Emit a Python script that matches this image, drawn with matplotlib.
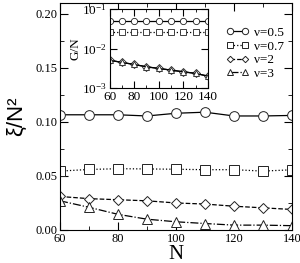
import numpy as np
import matplotlib.pyplot as plt
from matplotlib.ticker import MultipleLocator, LogLocator, NullFormatter

plt.rcParams['font.family'] = ['Liberation Serif', 'DejaVu Serif']
plt.rcParams['mathtext.fontset'] = 'custom'
plt.rcParams['mathtext.rm'] = 'Liberation Serif'

# data
N = [60, 70, 80, 90, 100, 110, 120, 130, 140]
xi_05 = [0.1066, 0.1066, 0.1066, 0.1055, 0.108, 0.109, 0.1055, 0.1055, 0.106]
xi_07 = [0.0545, 0.056, 0.0567, 0.0565, 0.0562, 0.0558, 0.0558, 0.0545, 0.0557]
xi_2 = [0.031, 0.029, 0.028, 0.027, 0.025, 0.024, 0.022, 0.0205, 0.019]
xi_3 = [0.027, 0.021, 0.0145, 0.010, 0.0076, 0.006, 0.0045, 0.0045, 0.004]

g_05 = [0.051] * 9
g_07 = [0.0257] * 9
g_2 = [0.0051, 0.00448, 0.00398, 0.00347, 0.00315, 0.00286, 0.00259, 0.00236, 0.00201]
g_3 = [0.0051, 0.00448, 0.00398, 0.00347, 0.00315, 0.00286, 0.00259, 0.00236, 0.00201]

labels = ['ν=0.5', 'ν=0.7', 'ν=2', 'ν=3']
markers = ['o', 's', 'D', '^']
msizes = [7, 6.5, 5, 6.5]
styles = ['-', ':', '--', '-.']

fig = plt.figure(figsize=(3.0, 2.63), dpi=100)
ax = fig.add_axes([0.2, 0.1255, 0.773, 0.863])

for y, lab, m, ms, ls in zip([xi_05, xi_07, xi_2, xi_3], labels, markers, msizes, styles):
    ax.plot(N, y, linestyle=ls, color='black', lw=0.9, marker=m, ms=ms,
            mfc='white', mec='#222222', mew=0.7, label=lab)

ax.set_xlim(60, 140)
ax.set_ylim(0, 0.21)
ax.xaxis.set_major_locator(MultipleLocator(20))
ax.xaxis.set_minor_locator(MultipleLocator(10))
ax.yaxis.set_major_locator(MultipleLocator(0.05))
ax.yaxis.set_minor_locator(MultipleLocator(0.025))
ax.yaxis.set_major_formatter(plt.FormatStrFormatter('%.2f'))
ax.tick_params(which='both', direction='in', top=True, right=True, labelsize=9, pad=2)
ax.tick_params(which='major', length=6)
ax.tick_params(which='minor', length=3)
ax.set_xlabel('N', fontsize=15, labelpad=0)
ax.set_ylabel('ξ/N²', fontsize=16, family=['Liberation Sans', 'DejaVu Sans'], labelpad=6)

leg = ax.legend(loc='upper right', bbox_to_anchor=(1.0, 0.93), frameon=False,
                fontsize=9.5, handlelength=1.7, handletextpad=0.4, labelspacing=0.1,
                borderaxespad=0.2, markerscale=0.65, numpoints=2)

# inset
ins = fig.add_axes([0.365, 0.665, 0.328, 0.30])
for y, m, ls in zip([g_05, g_07, g_2, g_3], markers, ['-', ':', '-', '-']):
    ins.plot(N, y, linestyle=ls, color='black', lw=0.9, marker=m, ms=4.5,
             mfc='white', mec='#222222', mew=0.6)
ins.set_yscale('log')
ins.set_xlim(60, 140)
ins.set_ylim(1e-3, 1e-1)
ins.xaxis.set_major_locator(MultipleLocator(20))
ins.xaxis.set_minor_locator(MultipleLocator(10))
ins.yaxis.set_major_locator(LogLocator(base=10, numticks=5))
ins.yaxis.set_minor_locator(LogLocator(base=10, subs=[], numticks=5))
ins.yaxis.set_minor_formatter(NullFormatter())
ins.tick_params(which='both', direction='in', top=True, right=True, labelsize=9.5, pad=2)
ins.tick_params(which='major', length=5)
ins.tick_params(which='minor', length=2.5)
ins.set_ylabel('G/N', fontsize=9.5, labelpad=0)

fig.savefig('out.png', dpi=100)
